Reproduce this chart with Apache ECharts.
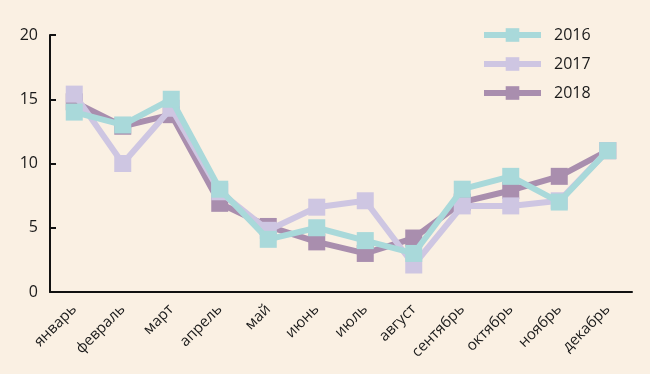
<!DOCTYPE html>
<html><head><meta charset="utf-8">
<script src="https://cdn.jsdelivr.net/npm/echarts@6/dist/echarts.min.js"></script>
<style>html,body{margin:0;padding:0;background:#faf0e3;}#c{width:650px;height:374px;}</style>
</head><body><div id="c"></div>
<script>
const months = ['январь','февраль','март','апрель','май','июнь','июль','август','сентябрь','октябрь','ноябрь','декабрь'];
const s2016 = [14.0, 13.0, 15.0, 8.0, 4.1, 5.0, 4.0, 3.0, 8.0, 9.0, 7.0, 11.0];
const s2017 = [15.4, 10.0, 14.3, 7.8, 4.8, 6.6, 7.1, 2.1, 6.7, 6.7, 7.1, 11.0];
const s2018 = [14.8, 12.9, 13.8, 6.9, 5.1, 3.9, 3.0, 4.2, 7.0, 7.9, 9.0, 11.0];
const yTicks = [0, 5, 10, 15, 20];

const font = '"Open Sans", "Noto Sans", sans-serif';
const chart = echarts.init(document.getElementById('c'));
function ser(name, data, color, z) {
  return { name, type: 'line', data, z, symbol: 'rect', symbolSize: 17,
    lineStyle: { color, width: 6 }, itemStyle: { color }, emphasis: { disabled: true } };
}
chart.setOption({
  backgroundColor: '#faf0e3',
  animation: false,
  grid: { left: 50, right: 18, top: 35, bottom: 82 },
  legend: {
    data: ['2016', '2017', '2018'], orient: 'vertical', left: 476, top: 22,
    itemWidth: 57, itemHeight: 17, itemGap: 13,
    lineStyle: { width: 6 },
    textStyle: { fontFamily: font, fontSize: 16, color: '#1a1a1a', padding: [0, 0, 0, 8] }
  },
  xAxis: {
    type: 'category', data: months, boundaryGap: true,
    axisLine: { lineStyle: { color: '#111', width: 2 } },
    axisTick: { inside: true, length: 6, lineStyle: { color: '#111', width: 2 } },
    axisLabel: { rotate: 45, fontFamily: font, fontSize: 15, color: '#1a1a1a', margin: 15 }
  },
  yAxis: {
    type: 'value', min: yTicks[0], max: yTicks[yTicks.length - 1], interval: 5,
    splitLine: { show: false },
    axisLine: { show: true, lineStyle: { color: '#111', width: 2 } },
    axisTick: { show: true, inside: true, length: 6, lineStyle: { color: '#111', width: 2 } },
    axisLabel: { fontFamily: font, fontSize: 16, color: '#1a1a1a', margin: 12 }
  },
  series: [
    ser('2018', s2018, '#a98eae', 2),
    ser('2017', s2017, '#cec6e2', 3),
    ser('2016', s2016, '#a9d9da', 4)
  ]
});
</script></body></html>
